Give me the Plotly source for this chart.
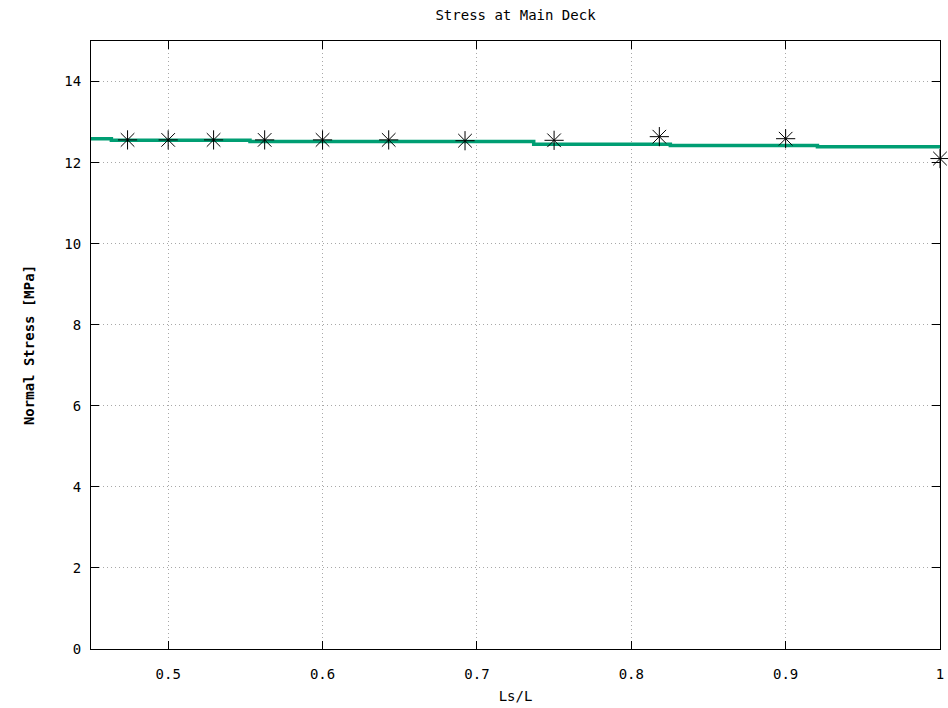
import plotly.graph_objects as go

# Step line (section stress)
step_x = [0.45, 0.4632, 0.553, 0.7368, 0.8253, 0.9206, 1.0]
step_y = [12.59, 12.55, 12.52, 12.45, 12.42, 12.39, 12.39]

# Point values
pt_x = [9/19, 9/18, 9/17, 9/16, 9/15, 9/14, 9/13, 9/12, 9/11, 9/10, 9/9]
pt_y = [12.56, 12.56, 12.56, 12.56, 12.56, 12.56, 12.54, 12.55, 12.64, 12.59, 12.10]

x_ticks = [0.5, 0.6, 0.7, 0.8, 0.9, 1.0]
x_tick_text = ["0.5", "0.6", "0.7", "0.8", "0.9", "1"]
y_ticks = [0, 2, 4, 6, 8, 10, 12, 14]

font_family = "DejaVu Sans Mono"

fig = go.Figure()
fig.add_trace(go.Scatter(
    x=step_x, y=step_y, mode="lines", line_shape="hv",
    line=dict(color="#009e73", width=3.5), showlegend=False,
    hoverinfo="skip"))
fig.add_trace(go.Scatter(
    x=pt_x, y=pt_y, mode="markers", cliponaxis=False,
    marker=dict(symbol="asterisk-open", size=16,
                line=dict(color="black", width=1), color="black"),
    showlegend=False))

axis_common = dict(
    showline=True, linecolor="black", linewidth=1, mirror="allticks",
    ticks="inside", ticklen=8, tickcolor="black", tickwidth=1,
    showgrid=True, gridcolor="#a8a8a8", griddash="1px,3px", gridwidth=1,
    zeroline=False, automargin=False,
    tickfont=dict(family=font_family, size=14, color="black"),
)

fig.update_layout(
    width=948, height=708,
    margin=dict(l=91, r=8, t=41, b=59),
    paper_bgcolor="white", plot_bgcolor="white",
    title=dict(text="Stress at Main Deck", x=(91 + 940) / 2 / 948, xanchor="center",
               y=1 - 15 / 708, yanchor="middle",
               font=dict(family=font_family, size=14, color="black")),
    xaxis=dict(range=[0.45, 1.0], tickvals=x_ticks, ticktext=x_tick_text,
               ticklabelstandoff=12,
               title=dict(text="Ls/L", standoff=10,
                          font=dict(family=font_family, size=14, color="black")),
               **axis_common),
    yaxis=dict(range=[0, 15], tickvals=y_ticks, ticklabelstandoff=6,
               title=dict(text="<b>Normal Stress [MPa]</b>", standoff=26,
                          font=dict(family=font_family, size=14, color="black")),
               **axis_common),
)

fig.write_html("out.html")
